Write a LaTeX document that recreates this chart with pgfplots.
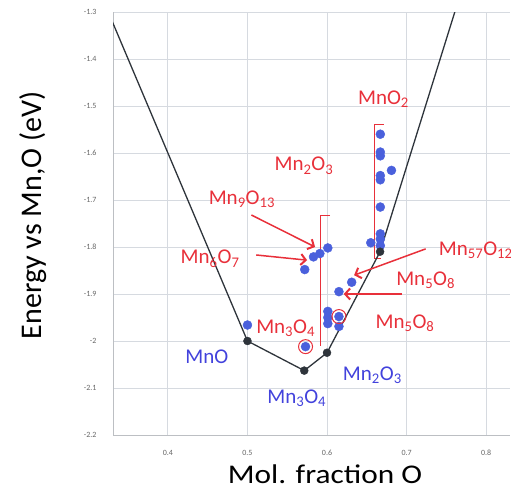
\documentclass[border=0pt]{standalone}
\usepackage{fontspec}
\setmainfont{Carlito}
\usepackage{pgfplots}
\pgfplotsset{compat=1.18}
\usetikzlibrary{arrows.meta}
\definecolor{ptblue}{HTML}{4A60DC}
\definecolor{txtblue}{HTML}{4242DC}
\definecolor{annred}{HTML}{E8303A}
\definecolor{hull}{HTML}{2E343B}
\definecolor{gridc}{HTML}{D6DAE0}
\newcommand{\sub}[1]{\textsubscript{#1}}

\begin{document}
\begin{tikzpicture}[x=1pt,y=1pt]
\useasboundingbox (-113,-57) rectangle (407,435);
\begin{axis}[
  scale only axis, width=397pt, height=423pt,
  xmin=0.331, xmax=0.83, ymin=-2.2, ymax=-1.3,
  xtick={0.4,0.5,0.6,0.7,0.8},
  ytick={-2.2,-2.1,-2,-1.9,-1.8,-1.7,-1.6,-1.5,-1.4,-1.3},
  grid=major, grid style={gridc, line width=0.9pt},
  axis lines=left, axis line style={gridc!70!gray, line width=0.9pt, -},
  major tick length=0pt,
  tick label style={font=\fontsize{8}{9}\selectfont, text=black!60},
  /pgf/number format/assume math mode=true,
  xticklabel style={yshift=-12pt},
  yticklabel style={xshift=-13pt},
  xlabel={\scalebox{1.16}[1]{Mol. fraction O}},
  ylabel={Energy vs Mn,O (eV)},
  every axis x label/.style={at={(rel axis cs:0.534,0)}, yshift=-39pt, anchor=center,
    font=\fontsize{27}{30}\selectfont},
  every axis y label/.style={at={(rel axis cs:0,0.519)}, xshift=-80pt, anchor=center,
    rotate=90, font=\fontsize{30}{32}\selectfont},
  clip=true,
]
% brackets
\draw[annred, line width=0.8pt] (axis cs:0.671,-1.5385) -- (axis cs:0.6595,-1.5385)
  -- (axis cs:0.6595,-1.825) -- (axis cs:0.668,-1.825);
\draw[annred, line width=0.8pt] (axis cs:0.604,-1.732) -- (axis cs:0.5916,-1.732)
  -- (axis cs:0.5916,-2.011);

% computed structures
\addplot[only marks, mark=*, mark size=4.5pt, mark options={fill=ptblue, draw=ptblue}]
coordinates {
  (0.500,-1.966) (0.573,-2.012) (0.572,-1.848) (0.583,-1.821) (0.591,-1.814)
  (0.601,-1.802) (0.601,-1.937) (0.601,-1.950) (0.601,-1.963) (0.615,-1.895)
  (0.615,-1.948) (0.615,-1.969) (0.631,-1.875)
  (0.667,-1.560) (0.667,-1.598) (0.667,-1.606) (0.667,-1.648) (0.667,-1.657)
  (0.681,-1.637) (0.667,-1.715) (0.667,-1.772) (0.667,-1.783) (0.667,-1.797)
  (0.655,-1.791)
};
% circled ones
\addplot[only marks, mark=o, mark size=7pt, mark options={draw=annred, line width=1pt}]
coordinates {(0.573,-2.012) (0.615,-1.948)};

% convex hull
\addplot[hull, line width=1.3pt] coordinates {
  (0,0) (0.5,-2.0) (0.5714,-2.063) (0.6,-2.025) (0.6667,-1.810) (1,0)
};
\addplot[only marks, mark=*, mark size=4pt, mark options={fill=hull, draw=hull}]
coordinates {(0.5,-2.0) (0.5714,-2.063) (0.6,-2.025) (0.6667,-1.810)};

% arrows
\begin{scope}[annred, line width=1.5pt, -{Straight Barb[length=5pt, width=11pt, line width=2pt]}]
\draw (axis cs:0.505,-1.732) -- (axis cs:0.585,-1.800);
\draw (axis cs:0.511,-1.817) -- (axis cs:0.575,-1.828);
\draw (axis cs:0.724,-1.804) -- (axis cs:0.634,-1.860);
\draw (axis cs:0.694,-1.900) -- (axis cs:0.621,-1.900);
\end{scope}

% labels
\begin{scope}[every node/.style={font=\fontsize{21}{23}\selectfont, inner sep=0pt, anchor=center}]
\node[text=annred] at (axis cs:0.671,-1.485) {MnO\sub{2}};
\node[text=annred] at (axis cs:0.571,-1.627) {Mn\sub{2}O\sub{3}};
\node[text=annred] at (axis cs:0.493,-1.698) {Mn\sub{9}O\sub{13}};
\node[text=annred] at (axis cs:0.453,-1.825) {Mn\sub{6}O\sub{7}};
\node[text=annred] at (axis cs:0.787,-1.807) {Mn\sub{57}O\sub{12}};
\node[text=annred] at (axis cs:0.724,-1.870) {Mn\sub{5}O\sub{8}};
\node[text=annred] at (axis cs:0.698,-1.962) {Mn\sub{5}O\sub{8}};
\node[text=annred] at (axis cs:0.548,-1.973) {Mn\sub{3}O\sub{4}};
\node[text=txtblue] at (axis cs:0.449,-2.033) {MnO};
\node[text=txtblue] at (axis cs:0.562,-2.122) {Mn\sub{3}O\sub{4}};
\node[text=txtblue] at (axis cs:0.657,-2.072) {Mn\sub{2}O\sub{3}};
\end{scope}
\end{axis}
\end{tikzpicture}
\end{document}
